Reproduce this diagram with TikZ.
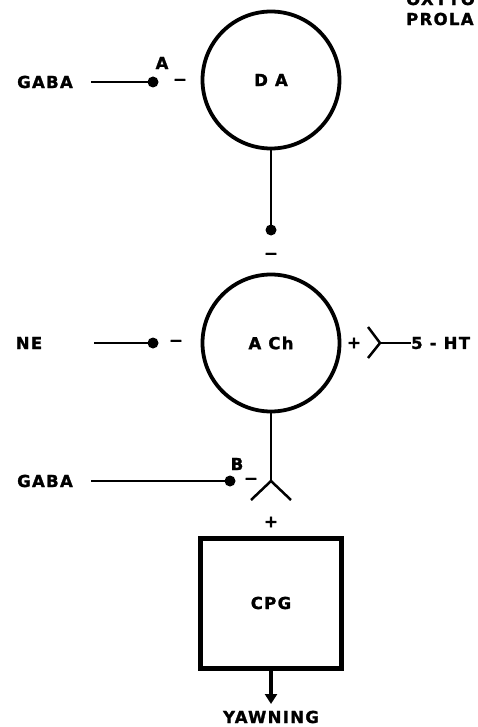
\documentclass[tikz,border=0pt]{standalone}
\usepackage{fontspec}
\setmainfont[LetterSpace=8,FakeBold=1.4]{DejaVu Sans Bold}
\usetikzlibrary{arrows.meta}
\begin{document}
\begin{tikzpicture}[x=1pt,y=-1pt,
  font=\fontsize{16.5}{19}\selectfont,
  cell/.style={circle, draw, line width=3.8pt, minimum size=137pt, inner sep=0pt},
  blk/.style={rectangle, draw, line width=5pt, minimum width=141pt, minimum height=130pt, inner sep=0pt},
  dot/.style={circle, fill, inner sep=0pt, minimum size=11pt},
  lbl/.style={inner sep=0pt},
  wire/.style={line width=2.3pt},
  fork/.style={line width=2.5pt, line join=miter}]
\useasboundingbox (0,0) rectangle (477,727);
\clip (0,0) rectangle (477,727);
% top-right cut text
\node[lbl, anchor=west] (oxy) at (406,-1) {OXYTO};
\node[lbl, anchor=west] (pro) at (406,19) {PROLA};
% DA
\node[cell] (da) at (271,80) {D A};
\node[lbl] (gabaA) at (45,82) {GABA};
\node[dot] (dotA) at (153,82) {};
\node[lbl] (labA) at (162,63) {A};
\node[lbl] (mA) at (180,82) {−};
\draw[wire, shorten <=18pt] (gabaA.east) -- (dotA.center);
% DA -> ACh
\node[dot] (dotD) at (271,230) {};
\node[lbl] (mD) at (271,256) {−};
\draw[wire] (da.south) -- (dotD.center);
% ACh
\node[cell] (ach) at (271,343) {A Ch};
\node[lbl] (ne) at (29,343) {NE};
\node[dot] (dotN) at (153,343) {};
\node[lbl] (mN) at (176,343) {−};
\draw[wire, shorten <=52pt] (ne.east) -- (dotN.center);
\node[lbl] (pH) at (354,343) {+};
\coordinate (vH) at (380,343);
\coordinate (aH1) at (368,327);
\coordinate (aH2) at (368,358);
\node[lbl, anchor=west] (ht) at (411,343) {5 - HT};
\draw[fork] (aH1) -- (vH) -- (aH2);
\draw[wire] (vH) -- (ht.west);
% ACh -> CPG
\coordinate (vB) at (271,481);
\coordinate (aB1) at (251,500);
\coordinate (aB2) at (291,500);
\draw[wire] (ach.south) -- (vB);
\draw[fork] (aB1) -- (vB) -- (aB2);
\node[lbl] (gabaB) at (45,481) {GABA};
\node[dot] (dotB) at (230,481) {};
\node[lbl] (labB) at (237,464) {B};
\node[lbl] (mB) at (251,481) {−};
\draw[wire, shorten <=18pt] (gabaB.east) -- (dotB.center);
\node[lbl] (pC) at (271,522) {+};
% CPG
\node[blk] (cpg) at (271,603) {CPG};
\node[lbl] (yawn) at (271,717) {YAWNING};
\draw[line width=3.5pt, -{Triangle[width=12pt,length=10pt]}] (cpg.south) -- (271,704);
\end{tikzpicture}
\end{document}
